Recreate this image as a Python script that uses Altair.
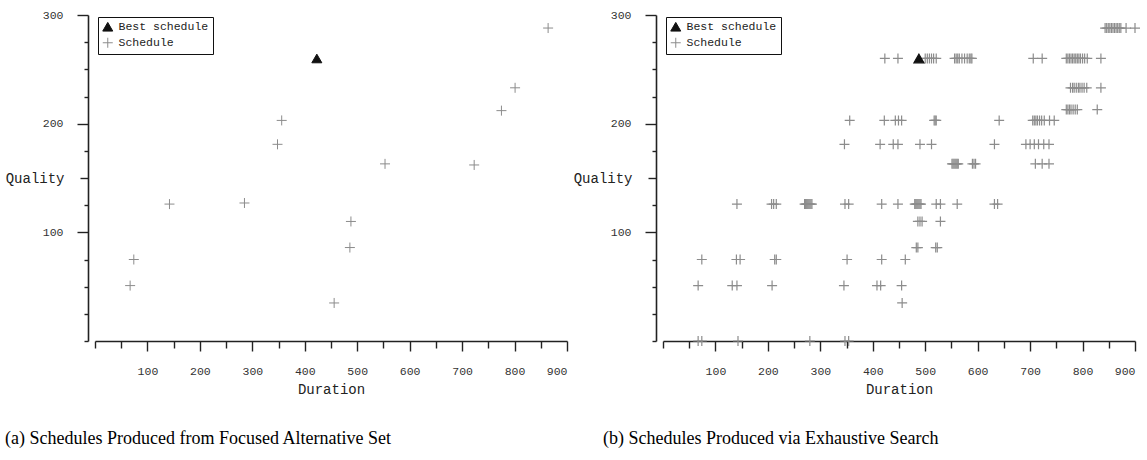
import altair as alt
import pandas as pd

MONO = "Liberation Mono"
SERIF = "Liberation Serif"
KINDS = ["Best schedule", "Schedule"]
CROSS = "M-1,0H1M0,-1V1"

# axis tick values
x_major = [100, 200, 300, 400, 500, 600, 700, 800, 900]
x_minor = [0, 50, 150, 250, 350, 450, 550, 650, 750, 850]
y_major = [100, 200, 300]
y_mid = [150]
y_minor = [0, 25, 50, 75, 125, 175, 225, 250, 275]

# ---- panel (a): focused alternative set ----
a_sched_dur = [67, 74, 142, 285, 348, 356, 456, 486, 488, 553, 723, 775, 801, 864]
a_sched_qual = [51, 75, 126, 127, 181, 203, 35, 86, 110, 163, 162, 212, 233, 288]
a_best_dur = [423]
a_best_qual = [260]

# ---- panel (b): exhaustive search, durations per quality level ----
b_q0 = [67, 74, 143, 280, 347, 354]
b_q35 = [456]
b_q51 = [67, 132, 141, 208, 345, 408, 415, 455]
b_q75 = [74, 140, 147, 213, 216, 351, 417, 462]
b_q86 = [483, 486, 520, 523]
b_q110 = [486, 490, 494, 529]
b_q126 = [141, 207, 211, 216, 270, 272, 274, 276, 278, 280, 282, 284, 347, 354, 417, 448,
          480, 482, 484, 486, 488, 490, 492, 521, 529, 561, 632, 638]
b_q163 = [551, 553, 555, 557, 559, 561, 563, 590, 593, 596, 710, 723, 736]
b_q181 = [346, 414, 439, 448, 490, 512, 632, 692, 700, 708, 716, 726, 736]
b_q203 = [356, 422, 443, 449, 455, 517, 519, 521, 641, 705, 708, 711, 714, 718, 722, 727, 737, 746]
b_q213 = [769, 772, 775, 778, 782, 786, 790, 828]
b_q233 = [777, 781, 784, 788, 792, 795, 799, 803, 808, 835]
b_q260 = [423, 448, 500, 504, 508, 512, 516, 521, 556, 559, 562, 565, 570, 575, 580, 584, 587, 589,
          706, 723, 769, 772, 775, 778, 781, 784, 787, 790, 793, 796, 800, 804, 809, 835]
b_q288 = [843, 846, 849, 852, 855, 858, 861, 864, 867, 870, 873, 883, 900]
b_levels = [(0, b_q0), (35, b_q35), (51, b_q51), (75, b_q75), (86, b_q86), (110, b_q110),
            (126, b_q126), (163, b_q163), (181, b_q181), (203, b_q203), (213, b_q213),
            (233, b_q233), (260, b_q260), (288, b_q288)]
b_best_dur = [488]
b_best_qual = [260]


def make_df(sched_dur, sched_qual, best_dur, best_qual):
    rows = [{"dur": d, "qual": q, "kind": "Schedule"} for d, q in zip(sched_dur, sched_qual)]
    rows += [{"dur": d, "qual": q, "kind": "Best schedule"} for d, q in zip(best_dur, best_qual)]
    return pd.DataFrame(rows)


df_a = make_df(a_sched_dur, a_sched_qual, a_best_dur, a_best_qual)
b_dur = [d for q, ds in b_levels for d in ds]
b_qual = [q for q, ds in b_levels for d in ds]
df_b = make_df(b_dur, b_qual, b_best_dur, b_best_qual)


def panel(df, caption, dx, width, stroke_w):
    xs = alt.Scale(domain=[0, 900], nice=False, zero=False)
    ys = alt.Scale(domain=[0, 300], nice=False, zero=False)
    leg = alt.Legend(title=None, orient="none", legendX=3, legendY=2,
                     strokeColor="#111111", fillColor="white", padding=4,
                     labelFont=MONO, labelFontSize=11.5, labelColor="#222222",
                     symbolStrokeWidth=1, symbolSize=100, rowPadding=1, labelOffset=5,
                     cornerRadius=0)
    minor = alt.Chart(df).mark_point(opacity=0).encode(
        x=alt.X("dur:Q", scale=xs, axis=alt.Axis(values=x_minor, orient="bottom", tickSize=7,
                                                 labels=False, domain=False, title=None, grid=False)),
        y=alt.Y("qual:Q", scale=ys, axis=alt.Axis(values=y_minor, orient="left", offset=7, tickSize=4,
                                                  labels=False, domain=False, title=None, grid=False)),
    )
    mid = alt.Chart(df).mark_point(opacity=0).encode(
        x=alt.X("dur:Q", scale=xs, axis=None),
        y=alt.Y("qual:Q", scale=ys, axis=alt.Axis(values=y_mid, orient="left", offset=7, tickSize=8,
                                                  labelPadding=16, labelExpr="'Quality'",
                                                  labelFontSize=14, labelColor="#222222",
                                                  domain=False, title=None, grid=False)),
    )
    pts = alt.Chart(df).mark_point(size=100, strokeWidth=stroke_w, opacity=1).encode(
        x=alt.X("dur:Q", scale=xs, axis=alt.Axis(values=x_major, orient="bottom", tickSize=10,
                                                 labelPadding=14, title="Duration", titlePadding=6,
                                                 grid=False)),
        y=alt.Y("qual:Q", scale=ys, axis=alt.Axis(values=y_major, orient="left", offset=7, tickSize=11,
                                                  labelPadding=14, title=None, grid=False)),
        shape=alt.Shape("kind:N", scale=alt.Scale(domain=KINDS, range=["triangle-up", CROSS]), legend=leg),
        fill=alt.Fill("kind:N", scale=alt.Scale(domain=KINDS, range=["#111111", "transparent"]), legend=leg),
        stroke=alt.Stroke("kind:N", scale=alt.Scale(domain=KINDS, range=["#111111", "#8c8c8c"]), legend=leg),
    )
    return alt.layer(minor, mid, pts).resolve_axis(x="independent", y="independent").properties(
        width=width, height=326,
        title=alt.Title(caption, orient="bottom", anchor="start", frame="group", dx=dx, offset=33,
                        font=SERIF, fontSize=18, fontWeight="normal", color="#000000"),
    )


left = panel(df_a, "(a) Schedules Produced from Focused Alternative Set", -90, 472, 1.0)
right = panel(df_b, "(b) Schedules Produced via Exhaustive Search", -60, 472, 1.2)

chart = alt.hconcat(left, right, spacing=96, bounds="flush").resolve_scale(
    shape="independent", fill="independent", stroke="independent"
).properties(
    padding={"left": 5, "top": 9, "right": 1, "bottom": 5}
).configure_view(stroke=None).configure_axis(
    labelFont=MONO, labelFontSize=11.5, labelColor="#333333",
    titleFont=MONO, titleFontSize=14, titleFontWeight="normal", titleColor="#222222",
    domainColor="#222222", domainWidth=1.6, tickColor="#222222", tickWidth=1.4,
)

chart.save("out.html", embed_options={"renderer": "svg", "actions": False})
